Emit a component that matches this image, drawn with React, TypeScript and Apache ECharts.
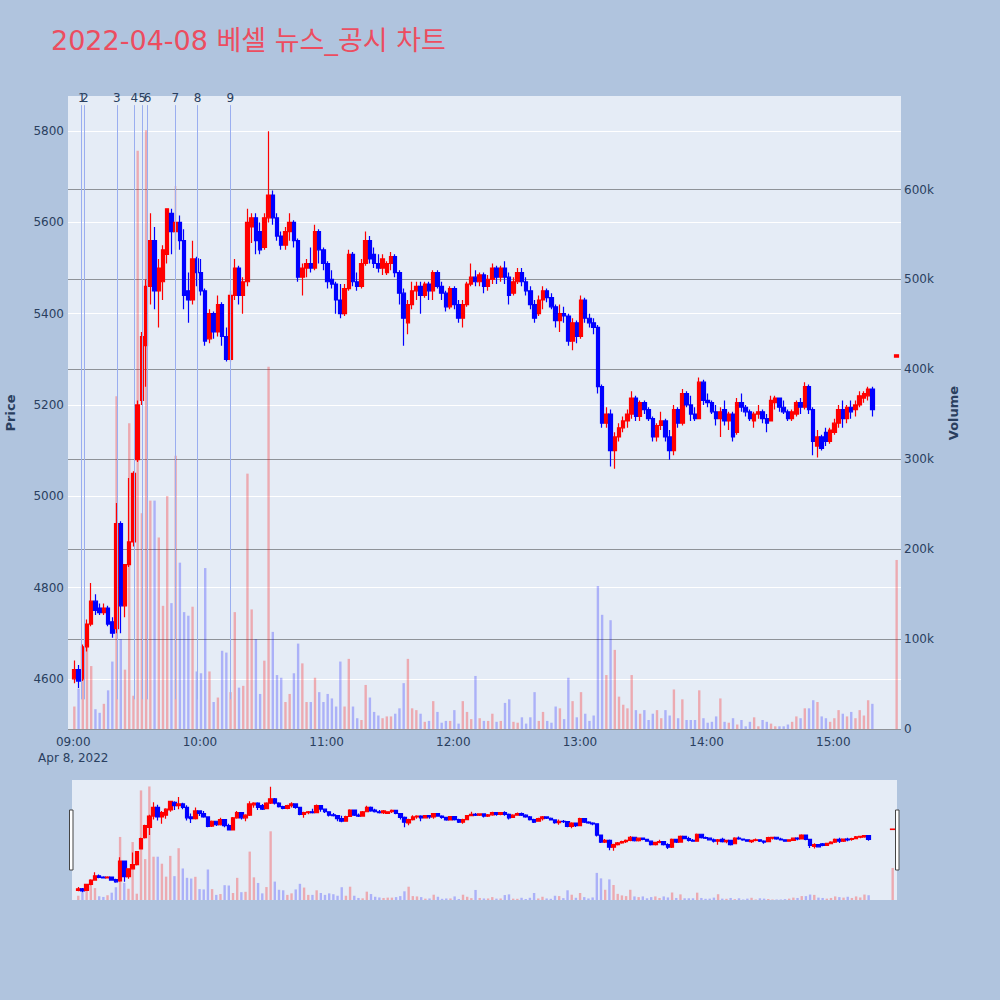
import React, { useEffect, useRef } from 'react';
import * as echarts from 'echarts';

const TITLE = '2022-04-08 베셀 뉴스_공시 차트';
const DATE_LABEL = 'Apr 8, 2022';
const FONT = "'DejaVu Sans', 'Noto Sans CJK KR', sans-serif";

// 2-minute candles from 09:00 to 15:18 (190 slots)
const SESSION_START = '09:00';
const SLOT_MINUTES = 2;

const opens = [
  4600, 4620, 4600, 4670, 4720, 4770, 4755, 4745, 4755, 4725,
  4710, 4940, 4760, 4850, 4900, 5080, 5210, 5330, 5460, 5560,
  5450, 5470, 5530, 5620, 5580, 5600, 5560, 5450, 5430, 5520,
  5490, 5450, 5345, 5400, 5360, 5420, 5350, 5300, 5440, 5500,
  5440, 5470, 5590, 5610, 5580, 5545, 5610, 5660, 5610, 5570,
  5550, 5580, 5600, 5560, 5480, 5500, 5510, 5500, 5580, 5540,
  5510, 5475, 5465, 5430, 5400, 5455, 5530, 5470, 5460, 5510,
  5560, 5530, 5510, 5500, 5490, 5510, 5525, 5490, 5445, 5380,
  5420, 5450, 5460, 5440, 5465, 5450, 5490, 5460, 5445, 5415,
  5455, 5420, 5390, 5420, 5465, 5480, 5470, 5485, 5460, 5475,
  5500, 5480, 5500, 5480, 5445, 5470, 5490, 5470, 5450, 5420,
  5400, 5430, 5450, 5435, 5415, 5385, 5400, 5395, 5340, 5380,
  5350, 5430, 5390, 5380, 5370, 5240, 5160, 5180, 5100, 5130,
  5150, 5165, 5180, 5215, 5175, 5205, 5190, 5170, 5130, 5155,
  5165, 5130, 5100, 5190, 5160, 5225, 5200, 5180, 5170, 5250,
  5210, 5205, 5185, 5170, 5190, 5165, 5180, 5140, 5205, 5195,
  5185, 5165, 5180, 5185, 5170, 5165, 5205, 5215, 5195, 5185,
  5170, 5180, 5205, 5195, 5240, 5190, 5110, 5130, 5140, 5120,
  5140, 5160, 5190, 5170, 5195, 5190, 5200, 5215, 5220, 5235,
];

const closes = [
  4620, 4595, 4670, 4720, 4770, 4750, 4745, 4755, 4720, 4700,
  4940, 4760, 4850, 4900, 5050, 5200, 5350, 5460, 5560, 5450,
  5500, 5540, 5630, 5580, 5600, 5560, 5440, 5430, 5520, 5490,
  5450, 5340, 5400, 5360, 5420, 5350, 5300, 5440, 5500, 5440,
  5470, 5600, 5610, 5560, 5540, 5610, 5660, 5610, 5570, 5550,
  5580, 5600, 5560, 5480, 5500, 5510, 5500, 5580, 5540, 5510,
  5470, 5465, 5430, 5400, 5455, 5530, 5470, 5460, 5510, 5560,
  5520, 5510, 5500, 5520, 5510, 5525, 5490, 5445, 5390, 5420,
  5450, 5460, 5440, 5465, 5450, 5490, 5460, 5445, 5415, 5455,
  5420, 5390, 5420, 5465, 5480, 5470, 5485, 5460, 5475, 5500,
  5480, 5500, 5480, 5440, 5470, 5490, 5470, 5450, 5420, 5390,
  5430, 5450, 5435, 5415, 5385, 5400, 5395, 5340, 5380, 5350,
  5430, 5390, 5380, 5370, 5240, 5160, 5180, 5100, 5130, 5150,
  5165, 5180, 5215, 5175, 5205, 5190, 5170, 5130, 5155, 5165,
  5130, 5100, 5190, 5160, 5225, 5200, 5180, 5170, 5250, 5210,
  5205, 5185, 5170, 5185, 5165, 5180, 5130, 5205, 5195, 5185,
  5170, 5180, 5185, 5170, 5160, 5210, 5215, 5195, 5185, 5170,
  5185, 5205, 5195, 5240, 5190, 5120, 5130, 5105, 5120, 5145,
  5160, 5190, 5170, 5195, 5185, 5200, 5220, 5225, 5235, 5190,
];

const lows = [
  4590, 4580, 4595, 4660, 4715, 4740, 4740, 4740, 4715, 4690,
  4700, 4700, 4735, 4845, 4890, 5075, 5200, 5240, 5420, 5410,
  5370, 5430, 5510, 5530, 5540, 5540, 5410, 5380, 5420, 5460,
  5440, 5330, 5335, 5345, 5350, 5330, 5295, 5295, 5430, 5420,
  5400, 5460, 5555, 5530, 5530, 5540, 5600, 5595, 5560, 5540,
  5540, 5560, 5545, 5470, 5440, 5480, 5490, 5495, 5510, 5495,
  5455, 5455, 5400, 5390, 5395, 5450, 5460, 5450, 5455, 5505,
  5510, 5500, 5490, 5485, 5485, 5495, 5480, 5420, 5330, 5355,
  5410, 5430, 5400, 5435, 5430, 5430, 5455, 5430, 5405, 5410,
  5410, 5380, 5370, 5415, 5460, 5460, 5460, 5445, 5450, 5465,
  5465, 5470, 5465, 5420, 5440, 5465, 5460, 5440, 5410, 5380,
  5395, 5410, 5425, 5410, 5370, 5360, 5380, 5330, 5320, 5335,
  5345, 5380, 5370, 5355, 5225, 5150, 5150, 5065, 5060, 5120,
  5140, 5150, 5170, 5165, 5165, 5180, 5165, 5120, 5120, 5145,
  5120, 5080, 5090, 5150, 5155, 5195, 5165, 5165, 5170, 5200,
  5195, 5180, 5155, 5130, 5155, 5145, 5120, 5135, 5185, 5175,
  5165, 5150, 5170, 5160, 5140, 5165, 5190, 5185, 5180, 5165,
  5165, 5175, 5180, 5190, 5180, 5090, 5085, 5100, 5110, 5115,
  5135, 5150, 5150, 5160, 5170, 5175, 5195, 5205, 5210, 5175,
];

const highs = [
  4640, 4630, 4675, 4730, 4810, 4785, 4765, 4765, 4760, 4735,
  4985, 4945, 4850, 5040, 5055, 5210, 5360, 5475, 5620, 5590,
  5520, 5550, 5630, 5630, 5680, 5615, 5585, 5490, 5560, 5525,
  5520, 5455, 5410, 5405, 5440, 5425, 5370, 5450, 5520, 5505,
  5480, 5630, 5620, 5620, 5600, 5620, 5800, 5670, 5620, 5580,
  5590, 5620, 5605, 5565, 5510, 5520, 5545, 5595, 5585, 5545,
  5515, 5495, 5470, 5465, 5465, 5540, 5535, 5490, 5520, 5580,
  5570, 5545, 5530, 5530, 5515, 5535, 5530, 5495, 5455, 5430,
  5470, 5470, 5470, 5470, 5470, 5495, 5495, 5470, 5450, 5460,
  5460, 5430, 5430, 5470, 5510, 5495, 5490, 5490, 5485, 5510,
  5505, 5505, 5515, 5490, 5480, 5500, 5500, 5480, 5460, 5430,
  5440, 5460, 5455, 5445, 5420, 5420, 5415, 5400, 5390, 5385,
  5440, 5435, 5400, 5390, 5375, 5245, 5195, 5190, 5140, 5160,
  5175, 5190, 5230, 5220, 5210, 5210, 5195, 5175, 5160, 5185,
  5170, 5145, 5200, 5195, 5235, 5230, 5220, 5195, 5260, 5255,
  5225, 5210, 5200, 5195, 5210, 5185, 5185, 5215, 5225, 5200,
  5190, 5185, 5200, 5190, 5180, 5220, 5220, 5215, 5210, 5190,
  5190, 5210, 5215, 5250, 5245, 5195, 5145, 5135, 5150, 5150,
  5170, 5200, 5210, 5200, 5210, 5210, 5230, 5230, 5240, 5240,
];

// volume in thousands of shares per slot
const volumesK = [
  25, 45, 60, 92, 70, 22, 18, 28, 43, 75,
  370, 100, 66, 340, 37, 643, 240, 666, 254, 254,
  213, 137, 259, 140, 304, 185, 130, 126, 136, 64,
  62, 179, 64, 30, 35, 87, 85, 41, 130, 46,
  48, 284, 133, 100, 39, 76, 403, 108, 60, 57,
  30, 39, 62, 95, 73, 30, 30, 57, 41, 30,
  39, 34, 25, 75, 25, 78, 25, 12, 10, 49,
  35, 19, 15, 12, 14, 14, 17, 23, 51, 78,
  23, 21, 17, 8, 9, 31, 19, 7, 9, 9,
  21, 6, 31, 19, 11, 59, 12, 9, 9, 17,
  8, 9, 29, 33, 8, 7, 13, 6, 13, 41,
  9, 19, 9, 7, 25, 23, 11, 57, 31, 13,
  41, 17, 9, 15, 159, 127, 60, 121, 88, 36,
  27, 23, 60, 21, 17, 21, 10, 17, 21, 12,
  21, 15, 44, 12, 33, 10, 10, 10, 43, 12,
  7, 8, 14, 34, 8, 7, 12, 5, 10, 3,
  8, 13, 3, 10, 8, 6, 3, 3, 3, 5,
  8, 14, 12, 23, 23, 32, 30, 14, 12, 8,
  12, 21, 17, 14, 19, 12, 21, 15, 32, 28,
];

// closing auction print
const closingTime = '15:30';
const closingOHLC = [5305, 5310, 5305, 5310];
const closingVolumeK = 188;

// news / disclosure markers
const newsTimes = ['09:04:00', '09:05:25', '09:20:40', '09:28:55', '09:32:40', '09:35:10', '09:48:20', '09:58:55', '10:14:25'];
const newsLabels = ['1', '2', '3', '4', '5', '6', '7', '8', '9'];

// axes
const hourTicks = ['09:00', '10:00', '11:00', '12:00', '13:00', '14:00', '15:00'];
const priceTicks = [4600, 4800, 5000, 5200, 5400, 5600, 5800];
const volumeTicks = [0, 100000, 200000, 300000, 400000, 500000, 600000];
const X_MIN = '08:57:30';
const X_MAX = '15:32:04';
const PRICE_MIN = 4490;
const PRICE_MAX = 5877;
const VOLUME_MAX = 704000;
const NEWS_TOP = 5857;
const NEWS_BOTTOM = 4555;

const UP = '#ff0000';
const DOWN = '#0000ff';
const UP_VOL = 'rgba(255,0,0,0.28)';
const DOWN_VOL = 'rgba(0,0,255,0.25)';
const AXIS_TEXT = '#2a3f5f';

// minutes since session start
function toMin(s: string): number {
  const [h, m, sec] = s.split(':').map(Number);
  const [h0, m0] = SESSION_START.split(':').map(Number);
  return (h - h0) * 60 + (m - m0) + (sec || 0) / 60;
}

function pad(n: number) {
  return String(n).padStart(2, '0');
}

function minLabel(v: number): string {
  const [h0, m0] = SESSION_START.split(':').map(Number);
  const total = h0 * 60 + m0 + v;
  return `${pad(Math.floor(total / 60))}:${pad(Math.round(total % 60))}`;
}

function buildData() {
  const candles: any[] = [];
  const vols: any[] = [];
  opens.forEach((o, i) => {
    const t = i * SLOT_MINUTES + 0.5;
    const c = closes[i];
    candles.push([t, o, c, lows[i], highs[i]]);
    vols.push({ value: [t, volumesK[i] * 1000], itemStyle: { color: c >= o ? UP_VOL : DOWN_VOL } });
  });
  const tc = toMin(closingTime);
  candles.push([tc, ...closingOHLC]);
  vols.push({
    value: [tc, closingVolumeK * 1000],
    itemStyle: { color: closingOHLC[1] >= closingOHLC[0] ? UP_VOL : DOWN_VOL },
  });
  return { candles, vols };
}

export default function App() {
  const ref = useRef<HTMLDivElement>(null);

  useEffect(() => {
    if (!ref.current) return;
    const chart = echarts.init(ref.current, null, { renderer: 'svg' });
    const { candles, vols } = buildData();

    const candleStyle = {
      color: UP,
      color0: DOWN,
      borderColor: UP,
      borderColor0: DOWN,
      borderWidth: 1.2,
    };

    const newsLines = newsTimes.map((t, i) => [
      { name: newsLabels[i], coord: [toMin(t), NEWS_BOTTOM] },
      { coord: [toMin(t), NEWS_TOP] },
    ]);

    const hourValues = hourTicks.map(toMin);

    const option: any = {
      animation: false,
      backgroundColor: '#b0c4de',
      textStyle: { fontFamily: FONT },
      grid: [
        { left: 68, top: 96, width: 833, height: 633, show: true, backgroundColor: '#e5ecf6', borderWidth: 0 },
        { left: 72, top: 780, width: 825, height: 120, show: true, backgroundColor: '#e5ecf6', borderWidth: 0 },
      ],
      xAxis: [
        {
          type: 'value',
          gridIndex: 0,
          min: toMin(X_MIN),
          max: toMin(X_MAX),
          minInterval: 60,
          maxInterval: 60,
          axisLine: { show: false },
          axisTick: { show: false, customValues: hourValues },
          splitLine: { show: false },
          axisLabel: {
            customValues: hourValues,
            color: AXIS_TEXT,
            fontSize: 12,
            fontFamily: FONT,
            margin: 5,
            lineHeight: 16,
            formatter: (v: number) => {
              if (!hourValues.some((h) => Math.abs(h - v) < 1e-6)) return '';
              const s = minLabel(v);
              return s === SESSION_START ? `${s}\n${DATE_LABEL}` : s;
            },
          },
        },
        {
          type: 'value',
          gridIndex: 1,
          min: toMin(X_MIN),
          max: toMin(X_MAX),
          show: false,
          splitLine: { show: false },
        },
      ],
      yAxis: [
        {
          type: 'value',
          gridIndex: 0,
          position: 'left',
          min: PRICE_MIN,
          max: PRICE_MAX,
          splitNumber: 7,
          axisLine: { show: false },
          axisTick: { show: false, customValues: priceTicks },
          axisLabel: {
            customValues: priceTicks,
            color: AXIS_TEXT,
            fontSize: 12,
            fontFamily: FONT,
            margin: 4,
            formatter: (v: number) => String(v),
          },
          splitLine: { show: true, lineStyle: { color: '#ffffff', width: 1 } },
        },
        {
          type: 'value',
          gridIndex: 0,
          position: 'right',
          min: 0,
          max: VOLUME_MAX,
          splitNumber: 7,
          axisLine: { show: false },
          axisTick: { show: false, customValues: volumeTicks },
          axisLabel: {
            customValues: volumeTicks,
            color: AXIS_TEXT,
            fontSize: 12,
            fontFamily: FONT,
            margin: 3,
            formatter: (v: number) => (v === 0 ? '0' : `${Math.round(v / 1000)}k`),
          },
          splitLine: { show: true, lineStyle: { color: '#8e9298', width: 1 } },
        },
        { type: 'value', gridIndex: 1, min: PRICE_MIN, max: PRICE_MAX, show: false, splitLine: { show: false } },
        { type: 'value', gridIndex: 1, min: 0, max: VOLUME_MAX, show: false, splitLine: { show: false } },
      ],
      series: [
        {
          name: 'Volume',
          type: 'bar',
          xAxisIndex: 0,
          yAxisIndex: 1,
          barWidth: 2.4,
          z: 1,
          silent: true,
          data: vols,
        },
        {
          name: 'Price',
          type: 'candlestick',
          xAxisIndex: 0,
          yAxisIndex: 0,
          barWidth: 4,
          z: 3,
          silent: true,
          itemStyle: candleStyle,
          data: candles,
          markLine: {
            silent: true,
            symbol: ['none', 'none'],
            animation: false,
            lineStyle: { color: '#9aaef0', width: 1, type: 'solid', opacity: 1 },
            label: {
              show: true,
              position: 'end',
              formatter: '{b}',
              color: AXIS_TEXT,
              fontSize: 12,
              fontFamily: FONT,
              distance: 1,
            },
            emphasis: { disabled: true },
            data: newsLines,
          },
        },
        {
          name: 'VolumeMini',
          type: 'bar',
          xAxisIndex: 1,
          yAxisIndex: 3,
          barWidth: 2.4,
          z: 1,
          silent: true,
          data: vols,
        },
        {
          name: 'PriceMini',
          type: 'candlestick',
          xAxisIndex: 1,
          yAxisIndex: 2,
          barWidth: 4,
          z: 3,
          silent: true,
          itemStyle: candleStyle,
          data: candles,
        },
      ],
      graphic: [
        {
          type: 'text',
          x: 51,
          y: 40,
          style: {
            text: TITLE,
            fill: '#ec4d60',
            font: `27px ${FONT}`,
            verticalAlign: 'middle',
            align: 'left',
          },
        },
        {
          type: 'text',
          x: 10,
          y: 413,
          rotation: Math.PI / 2,
          style: {
            text: 'Price',
            fill: AXIS_TEXT,
            font: `bold 13px ${FONT}`,
            align: 'center',
            verticalAlign: 'middle',
          },
        },
        {
          type: 'text',
          x: 953,
          y: 413,
          rotation: Math.PI / 2,
          style: {
            text: 'Volume',
            fill: AXIS_TEXT,
            font: `bold 13px ${FONT}`,
            align: 'center',
            verticalAlign: 'middle',
          },
        },
        {
          type: 'rect',
          shape: { x: 69.5, y: 810, width: 3.5, height: 60 },
          style: { fill: '#ffffff', stroke: '#444444', lineWidth: 1 },
          z: 10,
        },
        {
          type: 'rect',
          shape: { x: 895.5, y: 810, width: 3.5, height: 60 },
          style: { fill: '#ffffff', stroke: '#444444', lineWidth: 1 },
          z: 10,
        },
      ],
    };

    chart.setOption(option);
    return () => chart.dispose();
  }, []);

  return (
    <div
      ref={ref}
      style={{ position: 'fixed', left: 0, top: 0, width: 1000, height: 1000 }}
    />
  );
}
